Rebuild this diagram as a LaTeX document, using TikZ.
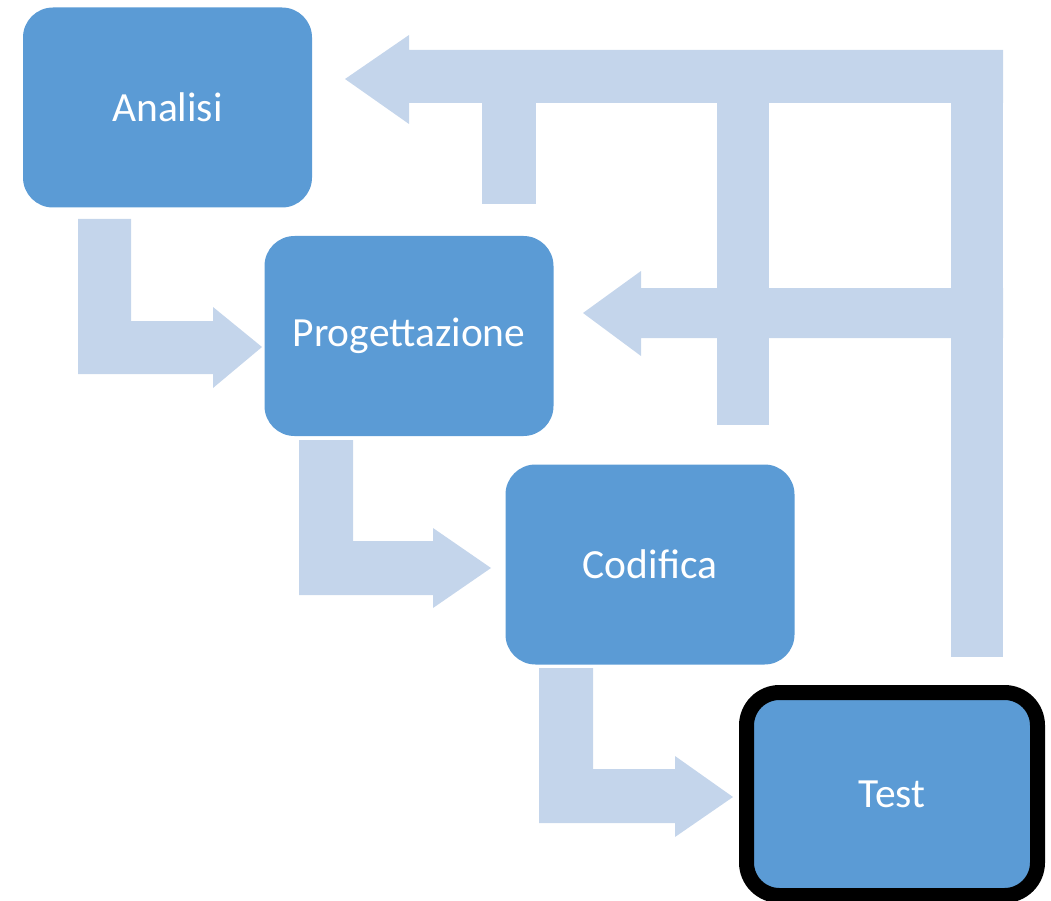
\documentclass[tikz,border=0pt]{standalone}
\usepackage{fontspec}
\setmainfont{Carlito}
\definecolor{boxblue}{HTML}{5B9BD5}
\definecolor{arrowblue}{HTML}{C4D5EB}
\begin{document}
\begin{tikzpicture}[x=1pt,y=-1pt,
  box/.style={rectangle, rounded corners=30pt, fill=boxblue, text=white,
    minimum width=289pt, minimum height=200pt, inner sep=0pt,
    font=\fontsize{41.5}{50}\selectfont},
  arr/.style={fill=arrowblue, draw=none}]
\useasboundingbox (0,0) rectangle (1051,901);
% feedback arrows
\fill[arr] (345,79) -- (409,35) -- (409,50) -- (1003,50) -- (1003,103) -- (409,103) -- (409,124) -- cycle;
\fill[arr] (951,50) rectangle (1003,657);
\fill[arr] (482,100) rectangle (536,204);
\fill[arr] (717,100) rectangle (769,425);
\fill[arr] (583,313) -- (641,271) -- (641,288) -- (1003,288) -- (1003,338) -- (641,338) -- (641,356) -- cycle;
% bent arrows
\fill[arr] (78,219) -- (131,219) -- (131,321) -- (213,321) -- (213,307) -- (262,347) -- (213,388) -- (213,374) -- (78,374) -- cycle;
\fill[arr] (299,440) -- (353,440) -- (353,541) -- (433,541) -- (433,528) -- (491,568) -- (433,608) -- (433,595) -- (299,595) -- cycle;
\fill[arr] (539,668) -- (593,668) -- (593,769) -- (675,769) -- (675,756) -- (733,797) -- (675,837) -- (675,823) -- (539,823) -- cycle;
% boxes
\node[box] (analisi) at (167.5,107.5) {Analisi};
\node[box] (prog) at (409,336) {Progettazione};
\node[box] (cod) at (650,564.5) {Codifica};
\node[box, draw=black, line width=15pt, rounded corners=33pt,
  minimum width=291pt, minimum height=203pt] (test) at (892,794) {Test};
\end{tikzpicture}
\end{document}
